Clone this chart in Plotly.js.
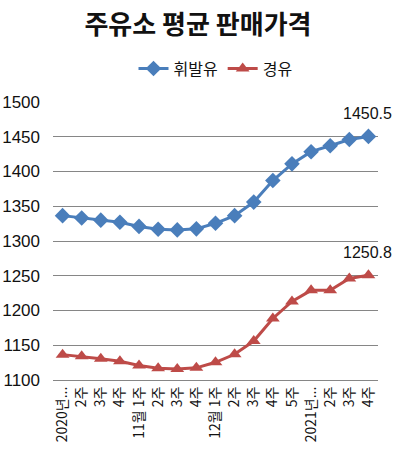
<!DOCTYPE html>
<html><head><meta charset="utf-8">
<script src="https://cdn.plot.ly/plotly-3.0.1.min.js"></script>
<style>html,body{margin:0;padding:0;background:#fff;}#chart{width:396px;height:459px;}</style>
</head><body><div id="chart"></div>
<script>
const weekLabels = ["2020년...", "2주", "3주", "4주", "11월 1주", "2주", "3주", "4주", "12월 1주", "2주", "3주", "4주", "5주", "2021년...", "2주", "3주", "4주"];
const gasoline = [1336.5, 1333, 1330, 1327, 1321, 1317, 1316, 1317.5, 1325.5, 1336.5, 1356, 1387, 1411, 1428.5, 1437, 1446, 1450.5];
const diesel = [1136.5, 1134, 1130.5, 1127, 1121, 1117, 1116, 1117.5, 1125.5, 1137, 1156, 1188.5, 1213, 1229, 1229, 1246, 1250.8];
const seriesNames = ["휘발유", "경유"];
const endLabels = ["1450.5", "1250.8"];

const idx = weekLabels.map((_, i) => i);
const kr = "Noto Sans CJK KR, sans-serif";
const num = "Liberation Sans, Arial, sans-serif";

const traces = [
  {x: idx, y: gasoline, name: seriesNames[0], type: "scatter", mode: "lines+markers",
   line: {color: "#4a7ebb", width: 3}, marker: {symbol: "diamond", size: 12, color: "#4a7ebb"}},
  {x: idx, y: diesel, name: seriesNames[1], type: "scatter", mode: "lines+markers",
   line: {color: "#be4b48", width: 3}, marker: {symbol: "triangle-up", size: 12, color: "#be4b48"}}
];

const layout = {
  width: 396, height: 459,
  margin: {l: 53, r: 18, t: 102, b: 79},
  paper_bgcolor: "#fff", plot_bgcolor: "#fff",
  title: {text: "<b>주유소 평균 판매가격</b>", font: {family: kr, size: 26, color: "#111"},
          x: 0.5, xanchor: "center", yref: "container", y: 0.945, yanchor: "middle"},
  showlegend: true,
  legend: {orientation: "h", x: 0.5, xanchor: "center", y: 1.12, yanchor: "middle",
           font: {family: kr, size: 16, color: "#111"}, itemwidth: 30, traceorder: "normal"},
  xaxis: {range: [-0.5, weekLabels.length - 0.5], tickvals: idx, ticktext: weekLabels,
          tickangle: -90, showgrid: false, zeroline: false, showline: true,
          linecolor: "#868686", linewidth: 1, ticks: "", fixedrange: true,
          tickfont: {family: kr, size: 14, color: "#111"}},
  yaxis: {range: [1100, 1500], dtick: 50, showgrid: true, gridcolor: "#868686", gridwidth: 1,
          zeroline: false, showline: false, ticks: "", ticklabelstandoff: 12,
          tickfont: {family: num, size: 17, color: "#111"}},
  annotations: [
    {x: idx[idx.length - 1], y: gasoline[gasoline.length - 1], text: endLabels[0], showarrow: false,
     xanchor: "center", yanchor: "bottom", yshift: 12, xshift: -1, font: {family: num, size: 16, color: "#111"}},
    {x: idx[idx.length - 1], y: diesel[diesel.length - 1], text: endLabels[1], showarrow: false,
     xanchor: "center", yanchor: "bottom", yshift: 12, xshift: -1, font: {family: num, size: 16, color: "#111"}}
  ]
};
Plotly.newPlot("chart", traces, layout, {staticPlot: true, displayModeBar: false});
</script></body></html>
